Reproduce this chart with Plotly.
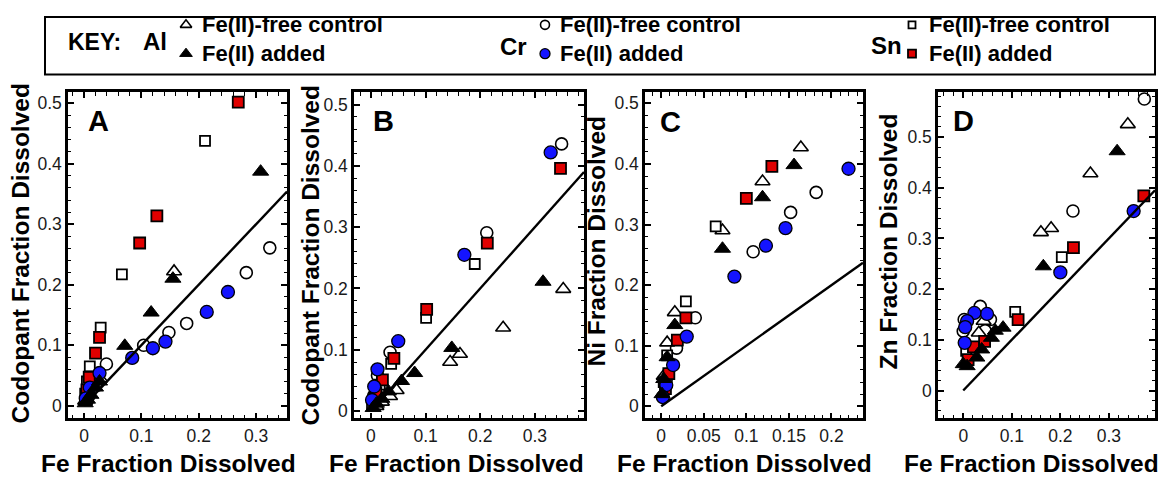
import plotly.graph_objects as go

FONT = "Liberation Sans, Arial, sans-serif"
W, H = 1171, 482

# ---- Panel A: codopant fraction dissolved vs Fe fraction dissolved ----
A_AL_CTRL_X = [0.157, 0.028, 0.015, 0.006, 0.002]
A_AL_CTRL_Y = [0.222, 0.045, 0.030, 0.018, 0.008]
A_AL_ADD_X = [0.308, 0.155, 0.117, 0.071, 0.027, 0.020, 0.012, 0.006, 0.002]
A_AL_ADD_Y = [0.387, 0.210, 0.154, 0.099, 0.040, 0.030, 0.018, 0.010, 0.004]
A_CR_CTRL_X = [0.324, 0.283, 0.179, 0.148, 0.104, 0.039, 0.020, 0.008]
A_CR_CTRL_Y = [0.261, 0.220, 0.136, 0.121, 0.100, 0.069, 0.035, 0.015]
A_CR_ADD_X = [0.251, 0.214, 0.142, 0.120, 0.084, 0.027, 0.010, 0.003]
A_CR_ADD_Y = [0.188, 0.155, 0.106, 0.095, 0.079, 0.054, 0.030, 0.012]
A_SN_CTRL_X = [0.211, 0.066, 0.029, 0.010, 0.005, 0.002]
A_SN_CTRL_Y = [0.438, 0.217, 0.129, 0.065, 0.040, 0.020]
A_SN_ADD_X = [0.269, 0.127, 0.097, 0.027, 0.020, 0.009, 0.005]
A_SN_ADD_Y = [0.502, 0.314, 0.269, 0.113, 0.087, 0.047, 0.026]

# ---- Panel B ----
B_AL_CTRL_X = [0.352, 0.242, 0.163, 0.145, 0.047, 0.035, 0.020, 0.010]
B_AL_CTRL_Y = [0.199, 0.136, 0.093, 0.080, 0.034, 0.024, 0.015, 0.008]
B_AL_ADD_X = [0.315, 0.148, 0.080, 0.056, 0.032, 0.020, 0.010, 0.004]
B_AL_ADD_Y = [0.211, 0.103, 0.062, 0.049, 0.032, 0.020, 0.012, 0.005]
B_CR_CTRL_X = [0.349, 0.212, 0.035, 0.012, 0.005]
B_CR_CTRL_Y = [0.436, 0.291, 0.096, 0.058, 0.025]
B_CR_ADD_X = [0.329, 0.171, 0.050, 0.012, 0.006, 0.002]
B_CR_ADD_Y = [0.422, 0.255, 0.114, 0.068, 0.040, 0.018]
B_SN_CTRL_X = [0.190, 0.101, 0.037, 0.016, 0.006, 0.002]
B_SN_CTRL_Y = [0.240, 0.152, 0.077, 0.043, 0.022, 0.010]
B_SN_ADD_X = [0.347, 0.213, 0.102, 0.042, 0.021, 0.009]
B_SN_ADD_Y = [0.396, 0.274, 0.166, 0.086, 0.051, 0.030]

# ---- Panel C: Ni fraction dissolved ----
C_AL_CTRL_X = [0.164, 0.119, 0.072, 0.016, 0.007, 0.003]
C_AL_CTRL_Y = [0.427, 0.371, 0.290, 0.155, 0.105, 0.050]
C_AL_ADD_X = [0.156, 0.119, 0.072, 0.016, 0.007, 0.003, 0.001]
C_AL_ADD_Y = [0.398, 0.345, 0.260, 0.134, 0.081, 0.045, 0.020]
C_CR_CTRL_X = [0.182, 0.152, 0.108, 0.040, 0.018, 0.006]
C_CR_CTRL_Y = [0.353, 0.320, 0.255, 0.146, 0.096, 0.045]
C_CR_ADD_X = [0.220, 0.146, 0.123, 0.086, 0.030, 0.014, 0.006, 0.002]
C_CR_ADD_Y = [0.392, 0.294, 0.265, 0.214, 0.115, 0.068, 0.035, 0.015]
C_SN_CTRL_X = [0.064, 0.029, 0.007, 0.003]
C_SN_CTRL_Y = [0.297, 0.173, 0.084, 0.040]
C_SN_ADD_X = [0.130, 0.100, 0.029, 0.019, 0.009, 0.005]
C_SN_ADD_Y = [0.396, 0.343, 0.146, 0.109, 0.054, 0.029]

# ---- Panel D: Zn fraction dissolved ----
D_AL_CTRL_X = [0.339, 0.262, 0.181, 0.160, 0.042, 0.032]
D_AL_CTRL_Y = [0.525, 0.428, 0.320, 0.312, 0.137, 0.114]
D_AL_ADD_X = [0.317, 0.165, 0.082, 0.066, 0.058, 0.038, 0.028, 0.008, 0.000]
D_AL_ADD_Y = [0.472, 0.245, 0.124, 0.118, 0.104, 0.081, 0.065, 0.048, 0.052]
D_CR_CTRL_X = [0.373, 0.226, 0.035, 0.056, 0.045, 0.002, 0.000]
D_CR_CTRL_Y = [0.575, 0.354, 0.166, 0.140, 0.118, 0.140, 0.117]
D_CR_ADD_X = [0.351, 0.200, 0.049, 0.023, 0.008, 0.004, 0.003]
D_CR_ADD_Y = [0.354, 0.233, 0.151, 0.153, 0.137, 0.125, 0.094]
D_SN_CTRL_X = [0.203, 0.107, 0.006]
D_SN_CTRL_Y = [0.263, 0.155, 0.078]
D_SN_ADD_X = [0.372, 0.227, 0.113, 0.044, 0.021, 0.010]
D_SN_ADD_Y = [0.384, 0.282, 0.140, 0.097, 0.086, 0.061]

PANEL_LETTERS = ["A", "B", "C", "D"]
Y_TITLES = ["Codopant Fraction Dissolved", "Codopant Fraction Dissolved",
            "Ni Fraction Dissolved", "Zn Fraction Dissolved"]
X_TITLE = "Fe Fraction Dissolved"
KEY_ELEMENTS = ["Al", "Cr", "Sn"]
KEY_LABELS = ["Fe(II)-free control", "Fe(II) added"]

BLUE = "#1414ff"
RED = "#e00000"

# marker styles per series (control series are white-filled so they hide what lies beneath)
STYLE = {
    "cr_ctrl": dict(symbol="circle", size=12, color="white", line=dict(color="black", width=1.6)),
    "al_ctrl": dict(symbol="triangle-up", size=13, color="white", line=dict(color="black", width=1.6)),
    "sn_ctrl": dict(symbol="square", size=10, color="white", line=dict(color="black", width=1.8)),
    "sn_add": dict(symbol="square", size=11, color=RED, line=dict(color="black", width=1.8)),
    "cr_add": dict(symbol="circle", size=13, color=BLUE, line=dict(color="black", width=1.3)),
    "al_add": dict(symbol="triangle-up", size=14, color="black", line=dict(color="black", width=1)),
}

panels = [
    dict(series={"cr_ctrl": (A_CR_CTRL_X, A_CR_CTRL_Y), "al_ctrl": (A_AL_CTRL_X, A_AL_CTRL_Y),
                 "sn_ctrl": (A_SN_CTRL_X, A_SN_CTRL_Y), "sn_add": (A_SN_ADD_X, A_SN_ADD_Y),
                 "cr_add": (A_CR_ADD_X, A_CR_ADD_Y), "al_add": (A_AL_ADD_X, A_AL_ADD_Y)},
         px=(68, 287), xr=(-0.028, 0.354), yr=(-0.021, 0.518), xd=0.1, xm=0.02, yd=0.1, ym=0.02,
         letter=(98, 122), ytitle=(20, 255), xtitle=(168, 466)),
    dict(series={"cr_ctrl": (B_CR_CTRL_X, B_CR_CTRL_Y), "al_ctrl": (B_AL_CTRL_X, B_AL_CTRL_Y),
                 "sn_ctrl": (B_SN_CTRL_X, B_SN_CTRL_Y), "sn_add": (B_SN_ADD_X, B_SN_ADD_Y),
                 "cr_add": (B_CR_ADD_X, B_CR_ADD_Y), "al_add": (B_AL_ADD_X, B_AL_ADD_Y)},
         px=(354, 584), xr=(-0.031, 0.39), yr=(-0.012, 0.52), xd=0.1, xm=0.02, yd=0.1, ym=0.02,
         letter=(383, 122), ytitle=(310, 257), xtitle=(456, 466)),
    dict(series={"cr_ctrl": (C_CR_CTRL_X, C_CR_CTRL_Y), "al_ctrl": (C_AL_CTRL_X, C_AL_CTRL_Y),
                 "sn_ctrl": (C_SN_CTRL_X, C_SN_CTRL_Y), "sn_add": (C_SN_ADD_X, C_SN_ADD_Y),
                 "cr_add": (C_CR_ADD_X, C_CR_ADD_Y), "al_add": (C_AL_ADD_X, C_AL_ADD_Y)},
         px=(645, 863), xr=(-0.019, 0.237), yr=(-0.02, 0.518), xd=0.05, xm=0.01, yd=0.1, ym=0.02,
         letter=(670, 123), ytitle=(596, 243), xtitle=(744, 466)),
    dict(series={"cr_ctrl": (D_CR_CTRL_X, D_CR_CTRL_Y), "al_ctrl": (D_AL_CTRL_X, D_AL_CTRL_Y),
                 "sn_ctrl": (D_SN_CTRL_X, D_SN_CTRL_Y), "sn_add": (D_SN_ADD_X, D_SN_ADD_Y),
                 "cr_add": (D_CR_ADD_X, D_CR_ADD_Y), "al_add": (D_AL_ADD_X, D_AL_ADD_Y)},
         px=(938, 1155), xr=(-0.052, 0.395), yr=(-0.055, 0.588), xd=0.1, xm=0.02, yd=0.1, ym=0.02,
         letter=(963, 122), ytitle=(888, 243), xtitle=(1031, 466)),
]

PLOT_TOP, PLOT_BOTTOM = 93, 421

fig = go.Figure()
annotations = []


def text_at(x, y, text, size, xanchor="center", angle=0):
    """Place a bold label at pixel position (x, y) measured from the top-left corner."""
    return dict(x=x / W, y=1 - y / H, xref="paper", yref="paper",
                xanchor=xanchor, yanchor="middle", text=f"<b>{text}</b>",
                textangle=angle, showarrow=False,
                font=dict(family=FONT, size=size, color="black"))


def axis(domain, rng, dtick, minor, anchor):
    return dict(domain=domain, range=list(rng), dtick=dtick, tick0=0, anchor=anchor,
                ticks="inside", ticklen=6, tickwidth=1.5, tickcolor="black",
                mirror="allticks", showline=True, linewidth=2.5, linecolor="black",
                showgrid=False, zeroline=False,
                tickfont=dict(family=FONT, size=17.5, color="#1a1a1a"),
                minor=dict(dtick=minor, tick0=0, ticks="inside", ticklen=3.5,
                           tickwidth=1.3, tickcolor="black", showgrid=False))


layout_axes = {}
for i, p in enumerate(panels, start=1):
    suffix = "" if i == 1 else str(i)
    xa, ya = f"x{suffix}", f"y{suffix}"
    for key, (xs, ys) in p["series"].items():
        fig.add_trace(go.Scatter(x=xs, y=ys, mode="markers", marker=STYLE[key],
                                 xaxis=xa, yaxis=ya, showlegend=False, cliponaxis=False))
    # 1:1 congruent-dissolution line
    xmax = p["xr"][1]
    fig.add_trace(go.Scatter(x=[0, xmax], y=[0, xmax], mode="lines",
                             line=dict(color="black", width=2.4),
                             xaxis=xa, yaxis=ya, showlegend=False))
    xdom = [p["px"][0] / W, p["px"][1] / W]
    ydom = [1 - PLOT_BOTTOM / H, 1 - PLOT_TOP / H]
    layout_axes[f"xaxis{suffix}"] = axis(xdom, p["xr"], p["xd"], p["xm"], ya)
    layout_axes[f"yaxis{suffix}"] = axis(ydom, p["yr"], p["yd"], p["ym"], xa)

    annotations.append(text_at(*p["letter"], PANEL_LETTERS[i - 1], 29))
    annotations.append(text_at(*p["ytitle"], Y_TITLES[i - 1], 24.5, angle=-90))
    annotations.append(text_at(*p["xtitle"], X_TITLE, 24.5))

# ---- key box drawn on an overlay axis measured in pixels ----
layout_axes["xaxis5"] = dict(domain=[0, 1], range=[0, W], visible=False, fixedrange=True, anchor="y5")
layout_axes["yaxis5"] = dict(domain=[0, 1], range=[H, 0], visible=False, fixedrange=True, anchor="x5")

KEY_ROWS = (25, 54)
key_groups = [
    dict(name=KEY_ELEMENTS[0], name_pos=(155, 42), sym_x=186, text_x=200, styles=("al_ctrl", "al_add")),
    dict(name=KEY_ELEMENTS[1], name_pos=(513, 47), sym_x=545, text_x=558, styles=("cr_ctrl", "cr_add")),
    dict(name=KEY_ELEMENTS[2], name_pos=(886, 46), sym_x=912, text_x=927, styles=("sn_ctrl", "sn_add")),
]
for g in key_groups:
    for row_y, st in zip(KEY_ROWS, g["styles"]):
        m = dict(STYLE[st])
        m["size"] = m["size"] - 3
        fig.add_trace(go.Scatter(x=[g["sym_x"]], y=[row_y], mode="markers", marker=m,
                                 xaxis="x5", yaxis="y5", showlegend=False, hoverinfo="skip"))
    for row_y, label in zip(KEY_ROWS, KEY_LABELS):
        annotations.append(text_at(g["text_x"], row_y, label, 22, xanchor="left"))
    annotations.append(text_at(*g["name_pos"], g["name"], 24))

annotations.append(text_at(94, 42, "KEY:", 23))

fig.update_layout(
    width=W, height=H,
    margin=dict(l=0, r=0, t=0, b=0),
    paper_bgcolor="white", plot_bgcolor="rgba(0,0,0,0)",
    showlegend=False,
    annotations=annotations,
    shapes=[dict(type="rect", xref="paper", yref="paper",
                 x0=45 / W, x1=1155 / W, y0=1 - 75 / H, y1=1 - 17 / H,
                 line=dict(color="black", width=2), fillcolor="rgba(0,0,0,0)")],
    **layout_axes,
)

fig.write_html("out.html")
